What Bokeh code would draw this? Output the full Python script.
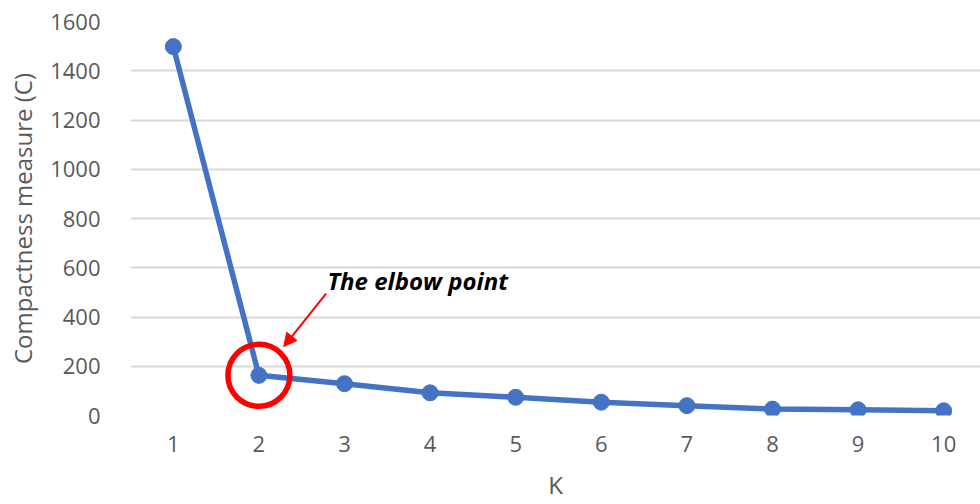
from bokeh.plotting import figure
from bokeh.models import FixedTicker, Range1d, Arrow, NormalHead, Label
from bokeh.embed import file_html
from bokeh.resources import INLINE

k_values = [1, 2, 3, 4, 5, 6, 7, 8, 9, 10]
compactness = [1498, 163, 129, 92, 74, 54, 40, 26, 23, 19]
y_ticks = [0, 200, 400, 600, 800, 1000, 1200, 1400, 1600]
elbow_index = 1
annotation_text = "The elbow point"

FONT = "Open Sans"
TEXT = "#595959"
BLUE = "#4472C4"

p = figure(width=980, height=504, output_backend="svg", toolbar_location=None,
           x_range=Range1d(0.5, 10.43), y_range=Range1d(0, 1600),
           min_border_left=130, min_border_right=0, min_border_top=21, min_border_bottom=89)
p.outline_line_color = None
p.background_fill_color = "white"

p.line(k_values, compactness, line_color=BLUE, line_width=5.5)
p.scatter(k_values, compactness, size=16, fill_color=BLUE, line_color=BLUE)

# elbow circle
p.scatter([k_values[elbow_index]], [compactness[elbow_index]], size=62, fill_color=None,
          line_color="#FF0000", line_width=5.5)

p.add_layout(Arrow(end=NormalHead(size=13, fill_color="#FF0000", line_color="#FF0000"),
                   x_start=2.785, y_start=495, x_end=2.29, y_end=280,
                   line_color="#FF0000", line_width=2))
p.add_layout(Label(x=2.8, y=550, text=annotation_text, text_font=FONT, text_font_size="24px",
                   text_font_style="bold italic", text_color="black", text_baseline="middle"))

p.xaxis.ticker = FixedTicker(ticks=k_values)
p.yaxis.ticker = FixedTicker(ticks=y_ticks)
for ax in (p.xaxis, p.yaxis):
    ax.axis_line_color = None
    ax.major_tick_line_color = None
    ax.minor_tick_line_color = None
    ax.major_label_text_font = FONT
    ax.major_label_text_font_size = "22px"
    ax.major_label_text_color = TEXT
    ax.axis_label_text_font = FONT
    ax.axis_label_text_font_size = "24px"
    ax.axis_label_text_font_style = "normal"
    ax.axis_label_text_color = TEXT

p.xaxis.axis_label = "K"
p.yaxis.axis_label = "Compactness measure (C)"
p.xaxis.major_label_standoff = 14
p.yaxis.major_label_standoff = 24
p.xaxis.axis_label_standoff = 13
p.yaxis.axis_label_standoff = 8

p.xgrid.grid_line_color = None
p.ygrid.grid_line_color = "#D9D9D9"
p.ygrid.grid_line_width = 2

open("out.html", "w").write(file_html(p, INLINE))
